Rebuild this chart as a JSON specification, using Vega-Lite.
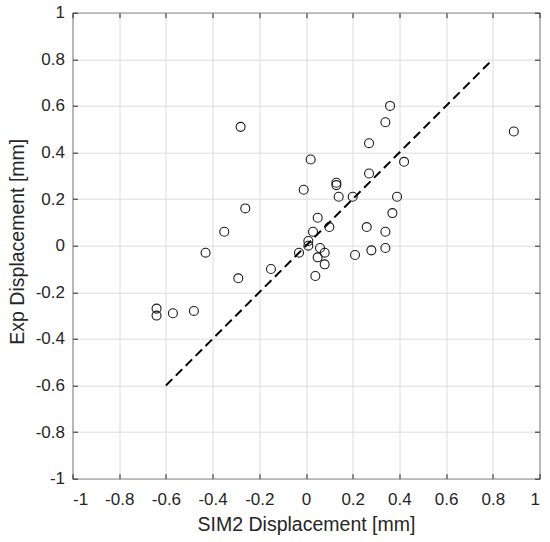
{
  "$schema": "https://vega.github.io/schema/vega-lite/v6.json",
  "width": 467,
  "height": 466,
  "autosize": {"type": "none"},
  "padding": {"left": 72.5, "top": 12.7, "right": 10.5, "bottom": 63.3},
  "background": "white",
  "config": {
    "font": "Liberation Sans",
    "view": {"stroke": "#262626", "strokeWidth": 1},
    "axis": {
      "domain": false,
      "tickSize": -5,
      "tickColor": "#262626",
      "tickWidth": 1,
      "gridColor": "#dcdcdc",
      "gridWidth": 1,
      "labelFont": "Liberation Sans",
      "labelFontSize": 17,
      "labelColor": "#262626",
      "titleFont": "Liberation Sans",
      "titleFontSize": 19.5,
      "titleFontWeight": "normal",
      "titleColor": "#262626"
    }
  },
  "datasets": {
    "pts": [
      {"sim": 0.36, "exp": 0.60}, {"sim": 0.34, "exp": 0.53}, {"sim": 0.89, "exp": 0.49},
      {"sim": 0.27, "exp": 0.44}, {"sim": 0.02, "exp": 0.37}, {"sim": 0.42, "exp": 0.36},
      {"sim": 0.27, "exp": 0.31}, {"sim": -0.01, "exp": 0.24}, {"sim": 0.13, "exp": 0.27},
      {"sim": 0.13, "exp": 0.26}, {"sim": 0.14, "exp": 0.21}, {"sim": 0.20, "exp": 0.21},
      {"sim": 0.39, "exp": 0.21}, {"sim": 0.37, "exp": 0.14}, {"sim": 0.05, "exp": 0.12},
      {"sim": 0.10, "exp": 0.08}, {"sim": 0.03, "exp": 0.06}, {"sim": 0.26, "exp": 0.08},
      {"sim": 0.34, "exp": 0.06}, {"sim": 0.01, "exp": 0.02}, {"sim": 0.01, "exp": 0.00},
      {"sim": -0.03, "exp": -0.03}, {"sim": 0.06, "exp": -0.01}, {"sim": 0.05, "exp": -0.05},
      {"sim": 0.08, "exp": -0.03}, {"sim": 0.08, "exp": -0.08}, {"sim": 0.04, "exp": -0.13},
      {"sim": 0.21, "exp": -0.04}, {"sim": 0.28, "exp": -0.02}, {"sim": 0.34, "exp": -0.01},
      {"sim": -0.28, "exp": 0.51}, {"sim": -0.26, "exp": 0.16}, {"sim": -0.35, "exp": 0.06},
      {"sim": -0.43, "exp": -0.03}, {"sim": -0.29, "exp": -0.14}, {"sim": -0.15, "exp": -0.10},
      {"sim": -0.64, "exp": -0.27}, {"sim": -0.64, "exp": -0.30}, {"sim": -0.57, "exp": -0.29},
      {"sim": -0.48, "exp": -0.28}
    ],
    "line": [{"sim": -0.6, "exp": -0.6}, {"sim": 0.8, "exp": 0.8}]
  },
  "layer": [
    {
      "data": {"name": "pts"},
      "mark": {"type": "point", "shape": "circle", "filled": false, "color": "#1a1a1a", "size": 80, "strokeWidth": 1.1, "opacity": 1},
      "encoding": {
        "x": {"field": "sim", "type": "quantitative", "scale": {"domain": [-1, 1], "nice": false},
          "axis": {"orient": "bottom", "title": "SIM2 Displacement [mm]", "values": [-1,-0.8,-0.6,-0.4,-0.2,0,0.2,0.4,0.6,0.8,1], "labelPadding": 17.5, "titleBaseline": "alphabetic", "titleY": 52, "labelExpr": "'' + datum.value"}},
        "y": {"field": "exp", "type": "quantitative", "scale": {"domain": [-1, 1], "nice": false},
          "axis": {"orient": "left", "title": "Exp Displacement [mm]", "values": [-1,-0.8,-0.6,-0.4,-0.2,0,0.2,0.4,0.6,0.8,1], "labelPadding": 13, "titleBaseline": "alphabetic", "titleX": -49.2, "titleY": 228.5, "labelExpr": "'' + datum.value"}}
      }
    },
    {
      "data": {"name": "line"},
      "mark": {"type": "line", "color": "black", "strokeWidth": 2, "strokeDash": [9, 5]},
      "encoding": {
        "x": {"field": "sim", "type": "quantitative", "scale": {"domain": [-1, 1], "nice": false},
          "axis": {"orient": "top", "title": null, "labels": false, "grid": false, "values": [-1,-0.8,-0.6,-0.4,-0.2,0,0.2,0.4,0.6,0.8,1]}},
        "y": {"field": "exp", "type": "quantitative", "scale": {"domain": [-1, 1], "nice": false},
          "axis": {"orient": "right", "title": null, "labels": false, "grid": false, "values": [-1,-0.8,-0.6,-0.4,-0.2,0,0.2,0.4,0.6,0.8,1]}}
      }
    }
  ],
  "resolve": {"axis": {"x": "independent", "y": "independent"}}
}
